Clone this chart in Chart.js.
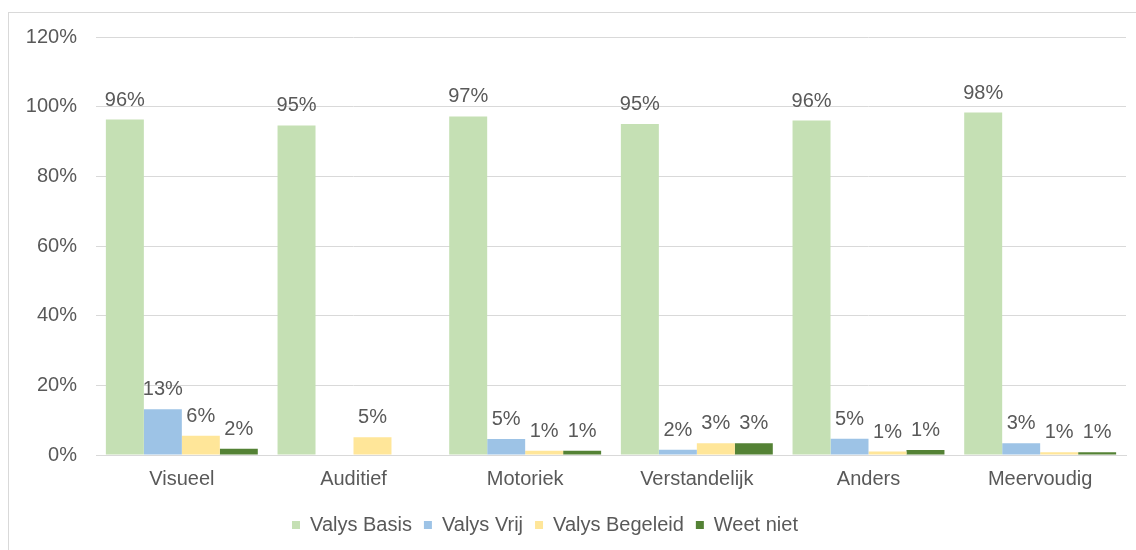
<!DOCTYPE html>
<html>
<head>
<meta charset="utf-8">
<script src="https://cdn.jsdelivr.net/npm/chart.js@4.4.1/dist/chart.umd.min.js"></script>
<style>
  html, body { margin: 0; padding: 0; background: #fff; }
  body { width: 1136px; height: 550px; overflow: hidden; position: relative; }
  .frame { position: absolute; left: 8px; top: 12px; width: 1200px; height: 600px; border: 1px solid #d9d9d9; }
  .chart { position: absolute; left: 0; top: 0; width: 1136px; height: 550px; }
</style>
</head>
<body>
<div class="frame"></div>
<div class="chart"><canvas id="c" width="1136" height="550"></canvas></div>
<script>
const categories = ['Visueel', 'Auditief', 'Motoriek', 'Verstandelijk', 'Anders', 'Meervoudig'];
const valysBasis = [96.3, 94.6, 97.2, 95.0, 96.0, 98.3];
const valysVrij = [13.1, null, 4.6, 1.5, 4.7, 3.4];
const valysBegeleid = [5.5, 5.1, 1.2, 3.4, 1.0, 0.8];
const weetNiet = [1.8, null, 1.2, 3.4, 1.4, 0.8];
const yTicks = [0, 20, 40, 60, 80, 100, 120];

const textColor = '#595959';
const gridColor = '#d9d9d9';
const font = 'Liberation Sans, Arial, sans-serif';

// draws the percentage above every bar
const barLabels = {
  id: 'barLabels',
  afterDatasetsDraw(chart) {
    const ctx = chart.ctx;
    ctx.save();
    ctx.font = '20px ' + font;
    ctx.fillStyle = textColor;
    ctx.textAlign = 'center';
    ctx.textBaseline = 'alphabetic';
    chart.data.datasets.forEach((ds, i) => {
      chart.getDatasetMeta(i).data.forEach((bar, j) => {
        const v = ds.data[j];
        if (v === null || v === undefined) return;
        ctx.fillText(Math.round(v) + '%', bar.x, bar.y - 14);
      });
    });
    ctx.restore();
  }
};

// the legend sits a bit left of the canvas centre in the original
const shiftLegend = {
  id: 'shiftLegend',
  afterLayout(chart) {
    chart.legend.right -= 44;
  }
};

const ctx = document.getElementById('c');
const myChart = new Chart(ctx, {
  type: 'bar',
  data: {
    labels: categories,
    datasets: [
      { label: 'Valys Basis', data: valysBasis, backgroundColor: '#c5e0b4' },
      { label: 'Valys Vrij', data: valysVrij, backgroundColor: '#9dc3e6' },
      { label: 'Valys Begeleid', data: valysBegeleid, backgroundColor: '#ffe699' },
      { label: 'Weet niet', data: weetNiet, backgroundColor: '#548235' },
    ]
  },
  options: {
    responsive: false,
    animation: false,
    devicePixelRatio: 1,
    layout: { padding: { top: 37, right: 10, left: 8, bottom: 5 } },
    datasets: { bar: { barPercentage: 1, categoryPercentage: 0.885 } },
    scales: {
      x: {
        grid: { display: false, drawTicks: false },
        border: { color: gridColor, width: 1 },
        ticks: { color: textColor, font: { family: font, size: 20 }, padding: 12, maxRotation: 0 }
      },
      y: {
        min: 0,
        max: 120,
        afterBuildTicks: (scale) => { scale.ticks = yTicks.map(v => ({ value: v })); },
        afterFit: (scale) => { scale.width = 88; },
        grid: { color: gridColor, drawTicks: false },
        border: { display: false },
        ticks: {
          color: textColor,
          font: { family: font, size: 20 },
          padding: 19,
          callback: (v) => v + '%'
        }
      }
    },
    plugins: {
      legend: {
        position: 'bottom',
        labels: {
          color: textColor,
          font: { family: font, size: 20 },
          boxWidth: 8,
          boxHeight: 8,
          padding: 12
        }
      },
      tooltip: { enabled: false }
    }
  },
  plugins: [barLabels, shiftLegend]
});
</script>
</body>
</html>
